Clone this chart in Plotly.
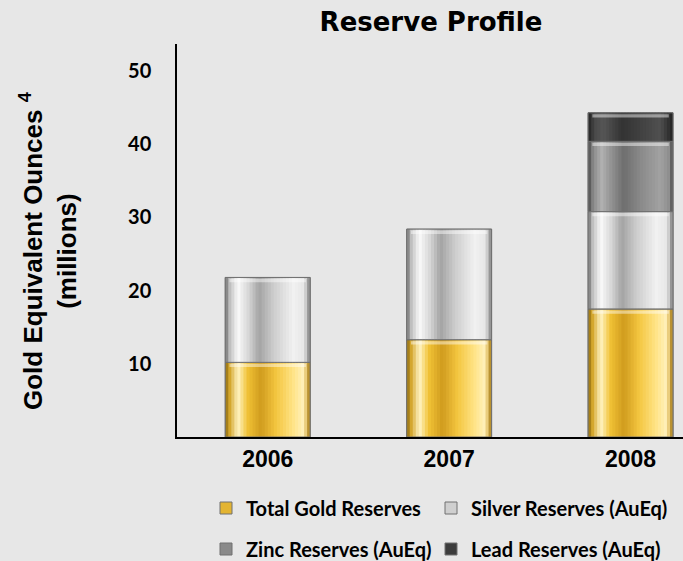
import numpy as np
import plotly.graph_objects as go

# ---- data (millions of gold-equivalent ounces) ----
years = ["2006", "2007", "2008"]
gold_reserves = [10.2, 13.3, 17.5]
silver_reserves = [11.6, 15.1, 13.3]
zinc_reserves = [None, None, 9.6]
lead_reserves = [None, None, 3.9]
series_names = [
    "Total Gold Reserves",
    "Silver Reserves (AuEq)",
    "Zinc Reserves (AuEq)",
    "Lead Reserves (AuEq)",
]
y_tick_values = [10, 20, 30, 40, 50]

W, H = 683, 561
M_L, M_R, M_T, M_B = 177, 0, 44, 124
PLOT_W, PLOT_H = W - M_L - M_R, H - M_T - M_B
BAR_WIDTH = 0.468
N_STRIPES = 28
BG = "#e7e7e7"


def as_array(values):
    return np.array([np.nan if v is None else v for v in values], dtype=float)


layers = [as_array(v) for v in (gold_reserves, silver_reserves, zinc_reserves, lead_reserves)]
bases = []
running = np.zeros(len(years))
for arr in layers:
    bases.append(running.copy())
    running = running + np.nan_to_num(arr)

# horizontal colour profiles giving each bar segment a glossy, cylindrical look
profiles = [
    [(0, "#8c6a12"), (0.05, "#d2a428"), (0.15, "#fff4c4"), (0.26, "#f1c236"),
     (0.42, "#d09c1e"), (0.6, "#f4c640"), (0.8, "#ffe487"), (0.92, "#fff0ba"),
     (0.97, "#d7ae46"), (1, "#8c6a12")],
    [(0, "#6e6e6e"), (0.05, "#bdbdbd"), (0.15, "#fafafa"), (0.28, "#d4d4d4"),
     (0.4, "#a3a3a3"), (0.56, "#cbcbcb"), (0.8, "#f1f1f1"), (0.93, "#e6e6e6"),
     (1, "#7a7a7a")],
    [(0, "#4a4a4a"), (0.06, "#8a8a8a"), (0.16, "#b0b0b0"), (0.3, "#8c8c8c"),
     (0.42, "#6e6e6e"), (0.6, "#888888"), (0.85, "#a2a2a2"), (0.95, "#8e8e8e"),
     (1, "#4a4a4a")],
    [(0, "#222222"), (0.08, "#4a4a4a"), (0.18, "#565656"), (0.4, "#333333"),
     (0.6, "#404040"), (0.85, "#505050"), (1, "#222222")],
]
legend_colors = ["#e3b431", "#cfcfcf", "#8a8a8a", "#3c3c3c"]
edge_color = "#707070"


def hex_rgb(h):
    h = h.lstrip("#")
    return np.array([int(h[i:i + 2], 16) for i in (0, 2, 4)], dtype=float)


def sample(stops, t):
    for (t0, c0), (t1, c1) in zip(stops[:-1], stops[1:]):
        if t0 <= t <= t1:
            f = 0 if t1 == t0 else (t - t0) / (t1 - t0)
            c = hex_rgb(c0) * (1 - f) + hex_rgb(c1) * f
            return "rgb({:.0f},{:.0f},{:.0f})".format(*c)
    return stops[-1][1]


fig = go.Figure()
legend_ids = ["legend", "legend2", "legend3", "legend4"]
step = BAR_WIDTH / N_STRIPES

for i, (name, vals, base) in enumerate(zip(series_names, layers, bases)):
    # legend-bearing segment
    fig.add_trace(go.Bar(
        x=years, y=vals, base=base, name="<b>" + name + "</b>", legend=legend_ids[i],
        width=BAR_WIDTH, offset=-BAR_WIDTH / 2,
        marker=dict(color=legend_colors[i], line=dict(color=edge_color, width=1)),
        hoverinfo="skip",
    ))
    # vertical shading stripes
    for k in range(N_STRIPES):
        off = -BAR_WIDTH / 2 + k * step
        wid = min(step * 1.35, BAR_WIDTH / 2 - off)
        fig.add_trace(go.Bar(
            x=years, y=vals, base=base, width=wid, offset=off,
            marker=dict(color=sample(profiles[i], (k + 0.5) / N_STRIPES), line=dict(width=0)),
            showlegend=False, hoverinfo="skip",
        ))
    # bevel highlight near the top of each segment
    tops = base + vals
    fig.add_trace(go.Bar(
        x=years, y=np.where(np.isnan(vals), np.nan, 0.45), base=tops - 0.65,
        width=BAR_WIDTH * 0.9, offset=-BAR_WIDTH * 0.45,
        marker=dict(color="rgba(255,255,255,0.45)", line=dict(width=0)),
        showlegend=False, hoverinfo="skip",
    ))
    # segment outline
    fig.add_trace(go.Bar(
        x=years, y=vals, base=base, width=BAR_WIDTH, offset=-BAR_WIDTH / 2,
        marker=dict(color="rgba(0,0,0,0)", line=dict(color=edge_color, width=1)),
        showlegend=False, hoverinfo="skip",
    ))

legend_font = dict(family="Lato", size=20, color="#000000")
legend_pos = [(206, 508), (431, 508), (206, 549), (431, 549)]
legend_layout = {}
for lid, (lx, ly) in zip(legend_ids, legend_pos):
    legend_layout[lid] = dict(
        xref="container", yref="container", x=lx / W, y=1 - ly / H,
        xanchor="left", yanchor="middle", orientation="h",
        bgcolor="rgba(0,0,0,0)", font=legend_font, traceorder="normal",
    )

fig.update_layout(
    width=W, height=H, autosize=False,
    margin=dict(l=M_L, r=M_R, t=M_T, b=M_B),
    paper_bgcolor=BG, plot_bgcolor=BG,
    barmode="overlay",
    title=dict(
        text="Reserve Profile", x=431 / W, xanchor="center", y=1 - 22 / H, yanchor="middle",
        font=dict(family="DejaVu Sans", size=26, color="#000000", weight="bold"),
    ),
    xaxis=dict(
        type="category", range=[-0.5, 2.289], showgrid=False, zeroline=False,
        showline=True, linecolor="#000000", linewidth=2, ticks="",
        tickfont=dict(family="Liberation Sans", size=23, color="#000000", weight="bold"),
    ),
    yaxis=dict(
        range=[0, 53.7], tickvals=y_tick_values, showgrid=False, zeroline=False,
        showline=True, linecolor="#000000", linewidth=1.5, ticks="",
        ticklabelstandoff=20,
        tickfont=dict(family="Lato", size=20, color="#000000", weight="bold"),
    ),
    annotations=[dict(
        text="Gold Equivalent Ounces <sup>4</sup><br>(millions)",
        xref="paper", yref="paper",
        x=(48 - M_L) / PLOT_W, y=(437 - 251) / PLOT_H,
        xanchor="center", yanchor="middle", textangle=-90, showarrow=False,
        font=dict(family="Liberation Sans", size=26, color="#000000", weight="bold"),
    )],
    **legend_layout,
)

fig.write_html("out.html")
